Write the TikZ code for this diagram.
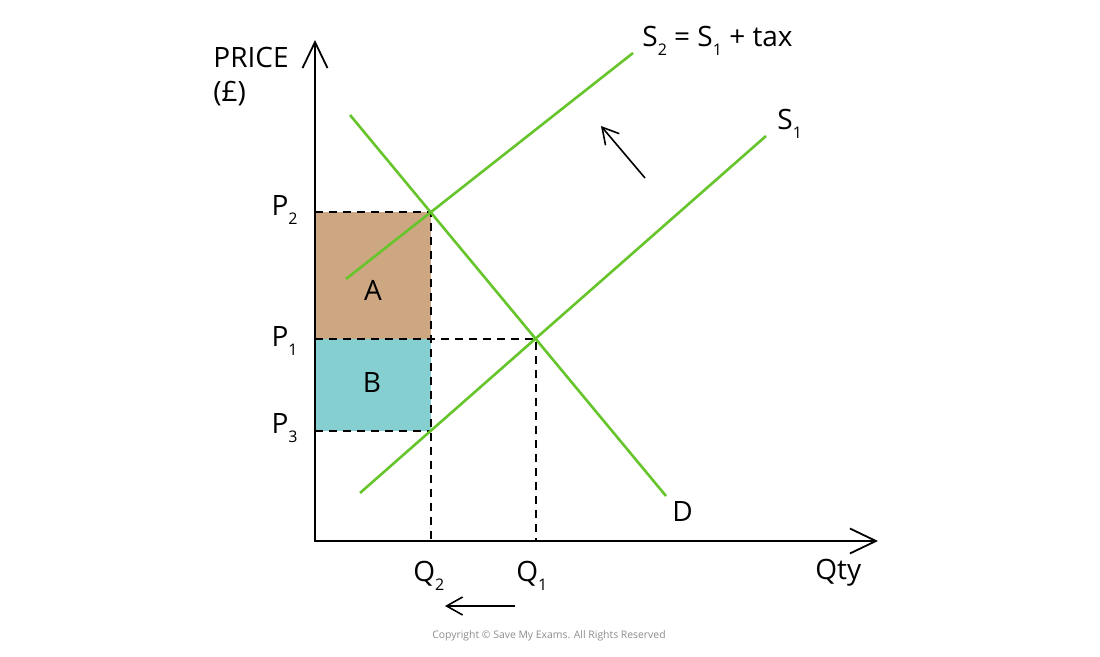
\documentclass[tikz,border=0pt]{standalone}
\usepackage{fontspec}
\setmainfont{Open Sans}
\usetikzlibrary{arrows.meta,intersections}
\definecolor{smgreen}{HTML}{66C52A}
\definecolor{areaA}{HTML}{CDA682}
\definecolor{areaB}{HTML}{85CFD1}
\newcommand{\lowsub}[1]{\raisebox{-0.55ex}{\fontsize{8}{8}\selectfont #1}}

\begin{document}
\begin{tikzpicture}[x=0.5pt,y=-0.5pt,font=\fontsize{14}{16}\selectfont,
    every node/.style={inner sep=0pt},
    curve/.style={smgreen,line width=1.3pt},
    guide/.style={dash pattern=on 4pt off 3pt,line width=1pt},
    axis/.style={line width=0.9pt,{Straight Barb[length=13pt,width=12.5pt]}-{Straight Barb[length=13pt,width=12.5pt]}},
    movearrow/.style={line width=0.8pt,-{Straight Barb[length=8pt,width=9pt]}}]
  \useasboundingbox (0,0) rectangle (1100,657);

  % axes and curve ends
  \coordinate (O) at (315,541);
  \coordinate (yend) at (315,40);
  \coordinate (xend) at (878,541);
  \coordinate (d1) at (350,115);
  \coordinate (d2) at (666,496);
  \coordinate (s1a) at (360,493);
  \coordinate (s1b) at (766,136);
  \coordinate (s2a) at (346,279);
  \coordinate (s2b) at (633,53);

  % equilibrium points
  \path[name path=dem] (d1) -- (d2);
  \path[name path=sup1] (s1a) -- (s1b);
  \path[name path=sup2] (s2a) -- (s2b);
  \path[name intersections={of=dem and sup1,by=E1}];
  \path[name intersections={of=dem and sup2,by=E2}];
  \coordinate (Q1) at (E1 |- O);
  \coordinate (Q2) at (E2 |- O);
  \path[name path=q2line] (E2) -- (Q2);
  \path[name intersections={of=sup1 and q2line,by=E3}];
  \coordinate (P1) at (O |- E1);
  \coordinate (P2) at (O |- E2);
  \coordinate (P3) at (O |- E3);

  % tax areas
  \fill[areaA] (P2) rectangle (E2 |- P1);
  \fill[areaB] (P1) rectangle (E3);

  \draw[guide] (P2) -- (E2) -- (Q2);
  \draw[guide] (P1) -- (E1) -- (Q1);
  \draw[guide] (P3) -- (E3);

  \draw[curve] (d1) -- (d2);
  \draw[curve] (s1a) -- (s1b);
  \draw[curve] (s2a) -- (s2b);

  \draw[axis] (yend) -- (O) -- (xend);

  % labels
  \node[anchor=base west] (price) at (213,68) {PRICE};
  \node[anchor=base west] (unit) at (213,102) {(£)};
  \node[anchor=base east] (p2lab) at (298,216) {P\lowsub{2}};
  \node[anchor=base east] (p1lab) at (298,347) {P\lowsub{1}};
  \node[anchor=base east] (p3lab) at (298,434) {P\lowsub{3}};
  \node[anchor=base west] (q2lab) at (413,582) {Q\lowsub{2}};
  \node[anchor=base west] (q1lab) at (516,582) {Q\lowsub{1}};
  \node[anchor=base west] (qty) at (815,580) {Qty};
  \node[anchor=base west] (dlab) at (672,522) {D};
  \node[anchor=base west] (s1lab) at (777,130) {S\lowsub{1}};
  \node[anchor=base west] (s2lab) at (642,47) {S\lowsub{2} = S\lowsub{1} + tax};
  \node (alab) at (373,290) {A};
  \node (blab) at (372,383) {B};

  % shift arrows
  \coordinate (up1) at (645,178);
  \coordinate (up2) at (601,126);
  \coordinate (qa) at (515,606);
  \coordinate (qb) at (445,606);
  \draw[movearrow] (up1) -- (up2);
  \draw[movearrow] (qa) -- (qb);

  \node[text=black!45,font=\fontsize{5.2}{6}\selectfont] (copy) at (549,636) {Copyright © Save My Exams. All Rights Reserved};
\end{tikzpicture}
\end{document}
